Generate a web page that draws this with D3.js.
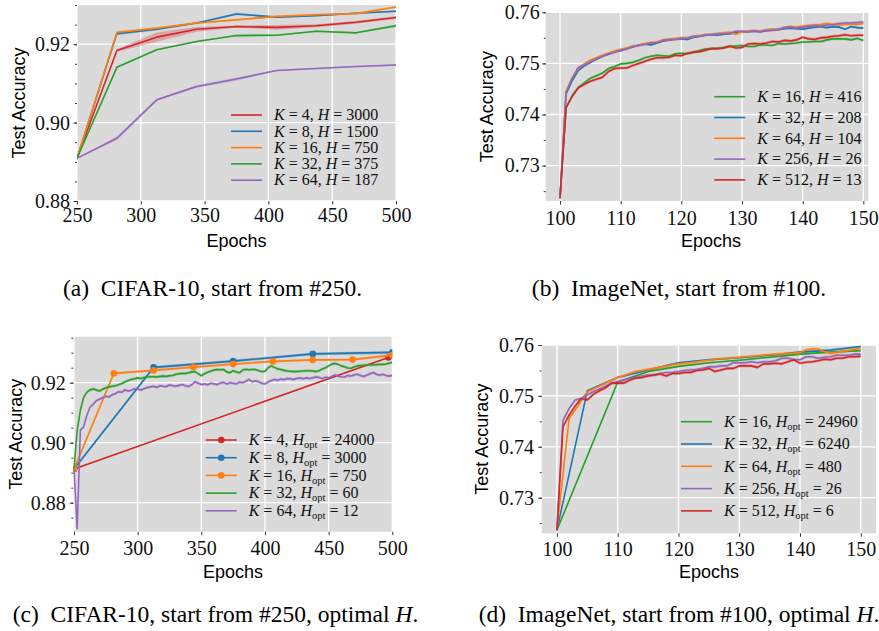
<!DOCTYPE html>
<html>
<head>
<meta charset="utf-8">
<script src="https://cdn.jsdelivr.net/npm/d3@7"></script>
<style>
  body { margin: 0; background: #fff; }
  svg text { white-space: pre; }
</style>
</head>
<body>
<svg id="fig" width="879" height="631"></svg>
<script>
// Test accuracy after switching to local SGD, 4 panels

const colors = {red: "#d62728", blue: "#1f77b4", orange: "#ff7f0e", green: "#2ca02c", purple: "#9467bd"};

// ---------- (a) CIFAR-10, start from #250 ----------
const epochsA = [250, 281.25, 312.5, 343.75, 375, 406.25, 437.5, 468.75, 500];
const accA_K4  = [.8909, .9184, .9218, .9238, .9245, .9243, .9247, .9256, .9268];
const accA_K8  = [.8909, .9227, .9238, .9254, .9277, .9269, .9273, .9279, .9284];
const accA_K16 = [.8909, .9230, .9241, .9254, .9262, .9271, .9275, .9278, .9295];
const accA_K32 = [.8909, .9141, .9186, .9207, .9222, .9223, .9233, .9229, .9247];
const accA_K64 = [.8909, .8960, .9058, .9092, .9111, .9133, .9138, .9143, .9147];
const stdA_K4  = [0, .0003, .0012, .0006, .0003, .0006, .0004, .0004, .0004];
const stdA_K8  = [0, .0004, .0003, .0002, .0003, .0002, .0002, .0002, .0002];
const stdA_K16 = [0, .0004, .0002, .0003, .0002, .0002, .0003, .0002, .0003];
const stdA_K32 = [0, .0002, .0002, .0002, .0002, .0002, .0002, .0002, .0004];
const stdA_K64 = [0, .0005, .0003, .0004, .0004, .0002, .0002, .0002, .0002];
const legendA_K = [4, 8, 16, 32, 64];
const legendA_H = [3000, 1500, 750, 375, 187];

// ---------- (b) ImageNet, start from #100 ----------
const epochsB = d3.range(100, 151);
const accB_K16 = [
  .7236, .7412, .7437, .7453, .7462, .7471, .7476, .7481, .7490, .7494,
  .7499, .7500, .7502, .7506, .7511, .7514, .7516, .7515, .7514, .7519,
  .7520, .7519, .7522, .7525, .7528, .7529, .7529, .7531, .7533, .7534,
  .7535, .7533, .7533, .7536, .7536, .7535, .7539, .7538, .7539, .7540,
  .7542, .7542, .7543, .7543, .7546, .7548, .7548, .7548, .7546, .7549,
  .7545];
const accB_K32 = [
  .7236, .7440, .7466, .7486, .7495, .7502, .7508, .7514, .7518, .7523,
  .7525, .7529, .7532, .7536, .7538, .7536, .7540, .7544, .7546, .7548,
  .7548, .7547, .7551, .7553, .7555, .7556, .7555, .7557, .7558, .7560,
  .7562, .7562, .7563, .7562, .7564, .7565, .7566, .7568, .7569, .7568,
  .7567, .7569, .7571, .7572, .7570, .7572, .7571, .7567, .7572, .7570,
  .7569];
const accB_K64 = [
  .7236, .7446, .7472, .7490, .7499, .7506, .7511, .7516, .7520, .7524,
  .7527, .7530, .7534, .7535, .7539, .7541, .7542, .7546, .7547, .7548,
  .7550, .7550, .7552, .7554, .7556, .7557, .7558, .7560, .7561, .7557,
  .7562, .7563, .7564, .7563, .7566, .7567, .7566, .7570, .7572, .7571,
  .7573, .7574, .7575, .7576, .7578, .7576, .7575, .7576, .7577, .7576,
  .7578];
const accB_K256 = [
  .7236, .7443, .7470, .7492, .7497, .7503, .7509, .7514, .7519, .7522,
  .7526, .7528, .7533, .7535, .7537, .7540, .7541, .7545, .7546, .7547,
  .7549, .7549, .7553, .7553, .7556, .7556, .7558, .7558, .7559, .7563,
  .7563, .7562, .7564, .7562, .7565, .7565, .7567, .7570, .7571, .7569,
  .7571, .7573, .7574, .7573, .7575, .7576, .7578, .7579, .7579, .7580,
  .7581];
const accB_K512 = [
  .7236, .7414, .7435, .7452, .7459, .7465, .7469, .7473, .7484, .7490,
  .7491, .7491, .7496, .7500, .7504, .7508, .7511, .7511, .7512, .7516,
  .7515, .7520, .7522, .7523, .7526, .7529, .7529, .7530, .7534, .7530,
  .7531, .7538, .7539, .7538, .7540, .7543, .7542, .7545, .7544, .7546,
  .7551, .7548, .7547, .7550, .7551, .7553, .7554, .7556, .7554, .7555,
  .7555];
const stdB = [.00025, .0002, .0003, .0003, .0003];
const legendB_K = [16, 32, 64, 256, 512];
const legendB_H = [416, 208, 104, 26, 13];

// ---------- (c) CIFAR-10, start from #250, optimal H ----------
const epochsC_K4 = [250, 497];
const accC_K4 = [.8912, .9284];
const epochsC_K8 = [250, 312.5, 375, 437.5, 500];
const accC_K8 = [.8912, .9251, .9272, .9296, .9301];
const epochsC_K16 = [250, 281.25, 312.5, 343.75, 375, 406.25, 437.5, 468.75, 500];
const accC_K16 = [.8912, .9231, .9241, .9252, .9262, .9271, .9276, .9277, .9292];
const epochsC_fine = d3.range(250, 500.01, 2.5);
const accC_K32 = [
  .8914, .9040, .9108, .9150, .9168, .9176, .9179, .9176, .9172, .9178,
  .9183, .9186, .9188, .9190, .9193, .9197, .9202, .9207, .9211, .9213,
  .9216, .9214, .9217, .9219, .9220, .9220, .9219, .9221, .9222, .9221,
  .9223, .9224, .9228, .9230, .9231, .9231, .9233, .9236, .9237, .9230,
  .9223, .9230, .9235, .9238, .9242, .9244, .9243, .9244, .9236, .9233,
  .9240, .9236, .9233, .9242, .9245, .9243, .9244, .9244, .9240, .9237,
  .9238, .9250, .9256, .9251, .9246, .9244, .9241, .9239, .9238, .9237,
  .9237, .9238, .9239, .9240, .9240, .9239, .9237, .9240, .9246, .9250,
  .9256, .9262, .9264, .9261, .9256, .9253, .9249, .9248, .9252, .9256,
  .9257, .9258, .9259, .9259, .9260, .9260, .9261, .9261, .9262, .9265,
  .9268];
const accC_K64 = [
  .8912, .8714, .9042, .9052, .9090, .9118, .9128, .9140, .9145, .9150,
  .9155, .9152, .9160, .9163, .9170, .9168, .9176, .9172, .9175, .9180,
  .9178, .9176, .9180, .9184, .9186, .9188, .9184, .9190, .9188, .9187,
  .9192, .9190, .9188, .9191, .9194, .9190, .9187, .9193, .9203, .9198,
  .9194, .9196, .9193, .9198, .9196, .9194, .9199, .9201, .9196, .9200,
  .9198, .9196, .9202, .9200, .9205, .9211, .9203, .9206, .9203, .9198,
  .9196, .9202, .9207, .9211, .9208, .9212, .9210, .9214, .9213, .9211,
  .9214, .9216, .9213, .9216, .9214, .9216, .9220, .9217, .9214, .9218,
  .9216, .9221, .9226, .9222, .9220, .9219, .9224, .9222, .9226, .9228,
  .9224, .9221, .9225, .9230, .9234, .9228, .9225, .9228, .9224, .9222,
  .9224];
const stdC = [.0002, .0005, .0004, .0005, .0005];
const legendC_K = [4, 8, 16, 32, 64];
const legendC_H = [24000, 3000, 750, 60, 12];

// ---------- (d) ImageNet, start from #100, optimal H ----------
const epochsD_K16 = [100, 110, 115, 120, 125, 130, 135, 140, 145, 150];
const accD_K16 = [.7236, .7527, .7548, .7558, .7565, .7570, .7576, .7582, .7586, .7589];
const epochsD_K32 = [100, 105, 110, 115, 120, 125, 130, 135, 140, 145, 150];
const accD_K32 = [.7236, .7510, .7536, .7551, .7565, .7571, .7575, .7580, .7586, .7590, .7597];
const epochsD_K64 = [100, 102, 105, 108, 110, 113, 116, 120, 123, 126, 130, 133, 136, 139,
                     140, 141, 142, 143, 144, 145, 147, 150];
const accD_K64 = [.7236, .7455, .7508, .7525, .7536, .7548, .7554, .7563, .7567, .7572, .7576,
                  .7579, .7582, .7584, .7585, .7590, .7592, .7592, .7587, .7584, .7587, .7594];
const epochsD_fine = d3.range(100, 151);
const accD_K256 = [
  .7236, .7452, .7475, .7492, .7495, .7502, .7508, .7513, .7519, .7525,
  .7528, .7531, .7535, .7536, .7539, .7541, .7541, .7544, .7546, .7546,
  .7548, .7550, .7551, .7552, .7554, .7557, .7557, .7559, .7559, .7565,
  .7565, .7565, .7567, .7565, .7567, .7567, .7569, .7574, .7574, .7571,
  .7571, .7577, .7577, .7574, .7576, .7577, .7580, .7580, .7580, .7582,
  .7582];
const accD_K512 = [
  .7236, .7439, .7462, .7480, .7495, .7492, .7503, .7510, .7516, .7525,
  .7525, .7525, .7531, .7535, .7536, .7539, .7541, .7543, .7539, .7544,
  .7544, .7546, .7546, .7550, .7551, .7554, .7548, .7551, .7554, .7554,
  .7559, .7559, .7559, .7556, .7563, .7563, .7564, .7563, .7567, .7571,
  .7564, .7566, .7567, .7569, .7572, .7571, .7574, .7574, .7577, .7577,
  .7578];
const stdD = [.0002, .0002, .0003, .0003, .0003];
const legendD_K = [16, 32, 64, 256, 512];
const legendD_H = [24960, 6240, 480, 26, 6];

const svg = d3.select("#fig");

function legendLabel(text, k, h, opt) {
    text.append("tspan").attr("font-style", "italic").text("K");
    text.append("tspan").text(" = " + k + ", ");
    text.append("tspan").attr("font-style", "italic").text("H");
    if (opt) {
        text.append("tspan").attr("font-size", "10.5px").attr("dy", 3).text("opt");
        text.append("tspan").attr("dy", -3).text(" = " + h);
    } else {
        text.append("tspan").text(" = " + h);
    }
}

function drawPanel(p) {
    const x = d3.scaleLinear().domain(p.xDomain).range([p.left, p.right]);
    const y = d3.scaleLinear().domain(p.yDomain).range([p.bottom, p.top]);
    const g = svg.append("g");

    g.append("clipPath").attr("id", "clip-" + p.id)
        .append("rect")
        .attr("x", p.left).attr("y", p.top)
        .attr("width", p.right - p.left).attr("height", p.bottom - p.top);

    // background + grid
    g.append("rect")
        .attr("x", p.left).attr("y", p.top)
        .attr("width", p.right - p.left).attr("height", p.bottom - p.top)
        .attr("fill", "#dadada");

    g.selectAll(".gx").data(p.xTicks).enter().append("line")
        .attr("x1", d => x(d)).attr("x2", d => x(d))
        .attr("y1", p.top).attr("y2", p.bottom)
        .attr("stroke", "#fff").attr("stroke-width", 1.3);
    g.selectAll(".gy").data(p.yTicks).enter().append("line")
        .attr("x1", p.left).attr("x2", p.right)
        .attr("y1", d => y(d)).attr("y2", d => y(d))
        .attr("stroke", "#fff").attr("stroke-width", 1.3);

    const plot = g.append("g").attr("clip-path", "url(#clip-" + p.id + ")");

    // std bands
    p.series.forEach(function(s) {
        const pts = s.epochs.map((e, i) => ({e: e, v: s.acc[i], sd: Array.isArray(s.std) ? s.std[i] : s.std}));
        plot.append("path").datum(pts)
            .attr("d", d3.area().x(d => x(d.e)).y0(d => y(d.v - d.sd)).y1(d => y(d.v + d.sd)))
            .attr("fill", s.color).attr("opacity", 0.3);
    });

    // lines
    p.series.forEach(function(s) {
        const pts = s.epochs.map((e, i) => ({e: e, v: s.acc[i]}));
        plot.append("path").datum(pts)
            .attr("d", d3.line().x(d => x(d.e)).y(d => y(d.v)))
            .attr("fill", "none").attr("stroke", s.color)
            .attr("stroke-width", 1.6).attr("stroke-linejoin", "round");
        if (s.marker) {
            plot.selectAll(null).data(pts).enter().append("circle")
                .attr("cx", d => x(d.e)).attr("cy", d => y(d.v))
                .attr("r", 3.3).attr("fill", s.color);
        }
    });

    // axes
    const xAxis = g.append("g").attr("transform", "translate(0," + p.bottom + ")")
        .call(d3.axisBottom(x).tickValues(p.xTicks).tickSize(3.5).tickPadding(p.xPad).tickFormat(d3.format("d")));
    const yAxis = g.append("g").attr("transform", "translate(" + p.left + ",0)")
        .call(d3.axisLeft(y).tickValues(p.yTicks).tickSize(3.5).tickPadding(p.yPad).tickFormat(d3.format(".2f")));
    const yMinor = g.append("g").attr("transform", "translate(" + p.left + ",0)")
        .call(d3.axisLeft(y).tickValues(p.yMinor).tickSize(2).tickFormat(""));
    [xAxis, yAxis, yMinor].forEach(function(a) {
        a.select(".domain").remove();
        a.selectAll("line").attr("stroke", "#222").attr("stroke-width", 0.9);
        a.selectAll("text")
            .attr("font-family", "'Liberation Serif', serif")
            .attr("font-size", 20).attr("fill", "#111");
    });

    // axis titles
    g.append("text")
        .attr("transform", "translate(" + p.yTitleX + "," + ((p.top + p.bottom) / 2) + ") rotate(-90)")
        .attr("text-anchor", "middle")
        .attr("font-family", "'Liberation Sans', sans-serif").attr("font-size", 18)
        .text("Test Accuracy");
    g.append("text")
        .attr("x", p.xTitleX).attr("y", p.xTitleY)
        .attr("text-anchor", "middle")
        .attr("font-family", "'Liberation Sans', sans-serif").attr("font-size", 18)
        .text("Epochs");

    // legend
    const leg = g.append("g");
    p.legendOrder.forEach(function(idx, row) {
        const s = p.series[idx];
        const ly = p.legend.y + row * p.legend.dy;
        leg.append("line")
            .attr("x1", p.legend.x).attr("x2", p.legend.x + 31)
            .attr("y1", ly).attr("y2", ly)
            .attr("stroke", s.color).attr("stroke-width", 1.6);
        if (s.marker) {
            leg.append("circle").attr("cx", p.legend.x + 15.5).attr("cy", ly)
                .attr("r", 3.3).attr("fill", s.color);
        }
        const t = leg.append("text")
            .attr("x", p.legend.x + 43).attr("y", ly).attr("dy", "0.33em")
            .attr("font-family", "'Liberation Serif', serif").attr("font-size", 16)
            .attr("fill", "#111");
        legendLabel(t, s.k, s.h, p.opt);
    });

    // caption
    const cap = svg.append("text")
        .attr("x", p.captionX).attr("y", p.captionY)
        .attr("text-anchor", "middle")
        .attr("font-family", "'Liberation Serif', serif").attr("font-size", 23.5)
        .attr("fill", "#000");
    cap.append("tspan").text(p.caption);
    if (p.captionItalic) {
        cap.append("tspan").attr("font-style", "italic").text(p.captionItalic);
        cap.append("tspan").text(".");
    }
}

const minorCifarA = d3.range(0.88, 0.9301, 0.005);
const minorCifarC = d3.range(0.875, 0.9351, 0.005);
const minorImageNet = d3.range(0.725, 0.7601, 0.005);

drawPanel({
    id: "a", left: 77, right: 396, top: 5, bottom: 201,
    xDomain: [250, 500], yDomain: [0.88, 0.93],
    xTicks: [250, 300, 350, 400, 450, 500], yTicks: [0.88, 0.90, 0.92], yMinor: minorCifarA,
    xPad: 3.5, yPad: 3.5, yTitleX: 25, xTitleX: 236.5, xTitleY: 247,
    series: [
        {epochs: epochsA, acc: accA_K4,  std: stdA_K4,  color: colors.red,    k: legendA_K[0], h: legendA_H[0]},
        {epochs: epochsA, acc: accA_K8,  std: stdA_K8,  color: colors.blue,   k: legendA_K[1], h: legendA_H[1]},
        {epochs: epochsA, acc: accA_K16, std: stdA_K16, color: colors.orange, k: legendA_K[2], h: legendA_H[2]},
        {epochs: epochsA, acc: accA_K32, std: stdA_K32, color: colors.green,  k: legendA_K[3], h: legendA_H[3]},
        {epochs: epochsA, acc: accA_K64, std: stdA_K64, color: colors.purple, k: legendA_K[4], h: legendA_H[4]}
    ],
    legendOrder: [0, 1, 2, 3, 4],
    legend: {x: 231, y: 115, dy: 16.3}, opt: false,
    caption: "(a)  CIFAR-10, start from #250.", captionX: 212.5, captionY: 296
});

drawPanel({
    id: "b", left: 545.7, right: 868.3, top: 12.3, bottom: 201,
    xDomain: [97.64, 150.82], yDomain: [0.72307, 0.76],
    xTicks: [100, 110, 120, 130, 140, 150], yTicks: [0.73, 0.74, 0.75, 0.76], yMinor: minorImageNet,
    xPad: 5.8, yPad: 2.5, yTitleX: 492.5, xTitleX: 711, xTitleY: 246.5,
    series: [
        {epochs: epochsB, acc: accB_K16,  std: stdB[0], color: colors.green,  k: legendB_K[0], h: legendB_H[0]},
        {epochs: epochsB, acc: accB_K32,  std: stdB[1], color: colors.blue,   k: legendB_K[1], h: legendB_H[1]},
        {epochs: epochsB, acc: accB_K64,  std: stdB[2], color: colors.orange, k: legendB_K[2], h: legendB_H[2]},
        {epochs: epochsB, acc: accB_K256, std: stdB[3], color: colors.purple, k: legendB_K[3], h: legendB_H[3]},
        {epochs: epochsB, acc: accB_K512, std: stdB[4], color: colors.red,    k: legendB_K[4], h: legendB_H[4]}
    ],
    legendOrder: [0, 1, 2, 3, 4],
    legend: {x: 714.3, y: 96.7, dy: 20.8}, opt: false,
    caption: "(b)  ImageNet, start from #100.", captionX: 679, captionY: 296
});

drawPanel({
    id: "c", left: 73.3, right: 392.3, top: 336.7, bottom: 531.7,
    xDomain: [249.45, 500], yDomain: [0.87033, 0.93533],
    xTicks: [250, 300, 350, 400, 450, 500], yTicks: [0.88, 0.90, 0.92], yMinor: minorCifarC,
    xPad: 5.6, yPad: 4, yTitleX: 21.5, xTitleX: 233, xTitleY: 578.3,
    series: [
        {epochs: epochsC_K4,   acc: accC_K4,  std: stdC[0], color: colors.red,    marker: true, k: legendC_K[0], h: legendC_H[0]},
        {epochs: epochsC_K8,   acc: accC_K8,  std: stdC[1], color: colors.blue,   marker: true, k: legendC_K[1], h: legendC_H[1]},
        {epochs: epochsC_K16,  acc: accC_K16, std: stdC[2], color: colors.orange, marker: true, k: legendC_K[2], h: legendC_H[2]},
        {epochs: epochsC_fine, acc: accC_K32, std: stdC[3], color: colors.green,  k: legendC_K[3], h: legendC_H[3]},
        {epochs: epochsC_fine, acc: accC_K64, std: stdC[4], color: colors.purple, k: legendC_K[4], h: legendC_H[4]}
    ],
    legendOrder: [0, 1, 2, 3, 4],
    legend: {x: 205.7, y: 440, dy: 17.7}, opt: true,
    caption: "(c)  CIFAR-10, start from #250, optimal ", captionItalic: "H", captionX: 215.5, captionY: 622
});

drawPanel({
    id: "d", left: 541.7, right: 876, top: 345, bottom: 533.3,
    xDomain: [97.5, 152.5], yDomain: [0.7230, 0.76],
    xTicks: [100, 110, 120, 130, 140, 150], yTicks: [0.73, 0.74, 0.75, 0.76], yMinor: minorImageNet,
    xPad: 5, yPad: 4.2, yTitleX: 488, xTitleX: 709, xTitleY: 578.3,
    series: [
        {epochs: epochsD_K16,  acc: accD_K16,  std: stdD[0], color: colors.green,  k: legendD_K[0], h: legendD_H[0]},
        {epochs: epochsD_K32,  acc: accD_K32,  std: stdD[1], color: colors.blue,   k: legendD_K[1], h: legendD_H[1]},
        {epochs: epochsD_K64,  acc: accD_K64,  std: stdD[2], color: colors.orange, k: legendD_K[2], h: legendD_H[2]},
        {epochs: epochsD_fine, acc: accD_K256, std: stdD[3], color: colors.purple, k: legendD_K[3], h: legendD_H[3]},
        {epochs: epochsD_fine, acc: accD_K512, std: stdD[4], color: colors.red,    k: legendD_K[4], h: legendD_H[4]}
    ],
    legendOrder: [0, 1, 2, 3, 4],
    legend: {x: 681, y: 421.7, dy: 22.3}, opt: true,
    caption: "(d)  ImageNet, start from #100, optimal ", captionItalic: "H", captionX: 679, captionY: 622
});
</script>
</body>
</html>
